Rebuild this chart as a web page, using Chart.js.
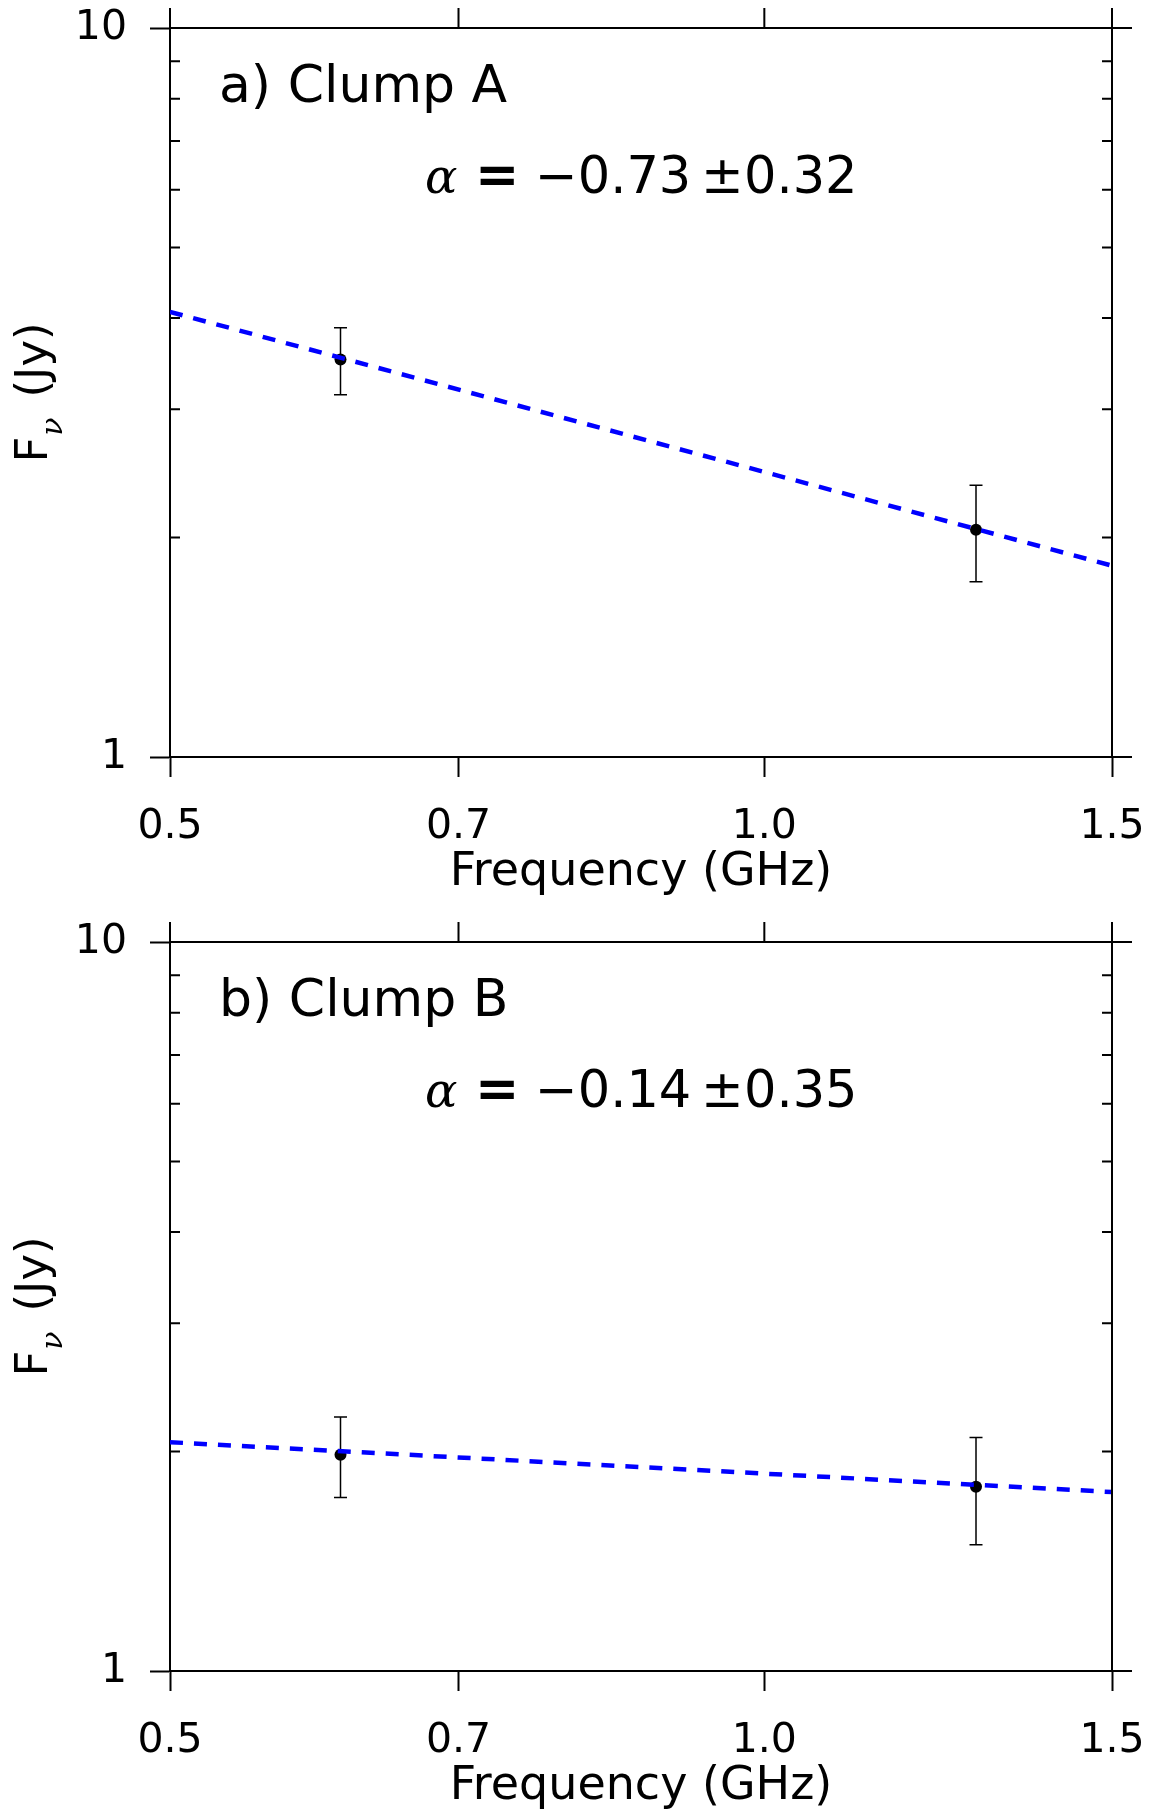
<!DOCTYPE html>
<html>
<head>
<meta charset="utf-8">
<script src="https://cdn.jsdelivr.net/npm/chart.js@4.4.1/dist/chart.umd.min.js"></script>
<style>
  body { margin: 0; background: #fff; overflow: hidden; }
  #wrap { position: relative; width: 1158px; height: 1811px; overflow: hidden; }
  canvas { position: absolute; left: 0; }
</style>
</head>
<body>
<div id="wrap">
  <canvas id="panelA" width="1158" height="914" style="top:0px"></canvas>
  <canvas id="panelB" width="1158" height="914" style="top:914px"></canvas>
</div>
<script>
"use strict";

// measured points (GHz, Jy) and 1-sigma errors
const freqs = [0.61, 1.28];
const fluxA = [3.51, 2.05];
const errA = [0.37, 0.31];
const fluxB = [1.98, 1.79];
const errB = [0.25, 0.30];

// power-law fit, read at the two ends of the axis
const fitFreqs = [0.5, 1.5];
const fitA = [4.08, 1.83];
const fitB = [2.06, 1.76];

// axes
const xTicks = [0.5, 0.7, 1.0, 1.5];
const yTicks = [1, 2, 3, 4, 5, 6, 7, 8, 9, 10];
const yMajor = [1, 10];

const panelLabels = ['a) Clump A', 'b) Clump B'];
const alphaVals = [['\u22120.73', '0.32'], ['\u22120.14', '0.35']];

const SANS = '"DejaVu Sans", sans-serif';
const SERIF = '"DejaVu Serif", serif';

// error bars drawn through the scales
const errorBars = {
  id: 'errorBars',
  beforeDatasetsDraw(chart, args, opts) {
    const ctx = chart.ctx;
    const x = chart.scales.x, y = chart.scales.y;
    ctx.save();
    ctx.strokeStyle = '#000';
    ctx.lineWidth = 1.5;
    opts.values.forEach((v, i) => {
      const px = x.getPixelForValue(opts.freqs[i]);
      const top = y.getPixelForValue(v + opts.errs[i]);
      const bot = y.getPixelForValue(v - opts.errs[i]);
      ctx.beginPath();
      ctx.moveTo(px, top); ctx.lineTo(px, bot);
      ctx.moveTo(px - 6.5, top); ctx.lineTo(px + 6.5, top);
      ctx.moveTo(px - 6.5, bot); ctx.lineTo(px + 6.5, bot);
      ctx.stroke();
    });
    ctx.restore();
  }
};

// top / right spines, outward major ticks, inward minor ticks
const frame = {
  id: 'frame',
  afterDraw(chart) {
    const ctx = chart.ctx;
    const a = chart.chartArea;
    const x = chart.scales.x, y = chart.scales.y;
    ctx.save();
    ctx.strokeStyle = '#000';
    ctx.lineWidth = 2;
    ctx.beginPath();
    ctx.moveTo(a.left, a.top); ctx.lineTo(a.right, a.top);
    ctx.moveTo(a.right, a.top); ctx.lineTo(a.right, a.bottom);
    xTicks.forEach(v => {
      const px = x.getPixelForValue(v);
      ctx.moveTo(px, a.top); ctx.lineTo(px, a.top - 20);
    });
    yTicks.forEach(v => {
      const py = y.getPixelForValue(v);
      if (yMajor.includes(v)) {
        ctx.moveTo(a.right, py); ctx.lineTo(a.right + 20, py);
      } else {
        ctx.moveTo(a.left, py); ctx.lineTo(a.left + 10, py);
        ctx.moveTo(a.right - 10, py); ctx.lineTo(a.right, py);
      }
    });
    ctx.stroke();
    ctx.restore();
  }
};

// panel label, spectral index and the y title with its subscript
const texts = {
  id: 'texts',
  afterDraw(chart, args, opts) {
    const ctx = chart.ctx;
    const a = chart.chartArea;
    ctx.save();
    ctx.fillStyle = '#000';
    ctx.textBaseline = 'alphabetic';
    ctx.textAlign = 'left';

    ctx.font = '52px ' + SANS;
    ctx.fillText(opts.label, a.left + 49, a.top + 74);

    // alpha = value ± err
    const bx = a.left + 255, by = a.top + 165;
    ctx.font = 'italic 48px ' + SERIF;
    ctx.fillText('\u03b1', bx, by);
    ctx.font = 'bold 53px ' + SANS;
    ctx.fillText('=', bx + 50, by);
    ctx.font = '51px ' + SANS;
    ctx.fillText(opts.alpha[0], bx + 110, by);
    ctx.fillText('\u00b1', bx + 276, by);
    ctx.fillText(opts.alpha[1], bx + 319, by);

    // y title: F_nu (Jy), rotated
    const cy = (a.top + a.bottom) / 2;
    ctx.translate(47, cy);
    ctx.rotate(-Math.PI / 2);
    ctx.font = '45px ' + SANS;
    const wF = ctx.measureText('F').width;
    const wJ = ctx.measureText('(Jy)').width;
    ctx.font = 'italic 30px ' + SERIF;
    const wNu = ctx.measureText('\u03bd').width;
    const total = wF + 1 + wNu + 20 + wJ;
    let cx = -total / 2;
    ctx.font = '45px ' + SANS;
    ctx.fillText('F', cx, 0);
    cx += wF + 1;
    ctx.font = 'italic 30px ' + SERIF;
    ctx.fillText('\u03bd', cx, 15);
    cx += wNu + 20;
    ctx.font = '45px ' + SANS;
    ctx.fillText('(Jy)', cx, 0);
    ctx.restore();
  }
};

// keep the plot box where layout.padding puts it
function noOverflow(s) {
  s.paddingTop = 0;
  s.paddingBottom = 0;
  s.paddingLeft = 0;
  s.paddingRight = 0;
}

function makePanel(id, flux, err, fit, label, alpha) {
  const points = freqs.map((f, i) => ({ x: f, y: flux[i] }));
  const fitLine = fitFreqs.map((f, i) => ({ x: f, y: fit[i] }));

  return new Chart(document.getElementById(id), {
    type: 'scatter',
    data: {
      datasets: [
        {
          type: 'line',
          data: fitLine,
          borderColor: '#0000ff',
          borderWidth: 4.5,
          borderDash: [13, 11],
          pointRadius: 0,
          fill: false,
          order: 0
        },
        {
          data: points,
          backgroundColor: '#000',
          borderWidth: 0,
          pointRadius: 6,
          order: 1
        }
      ]
    },
    options: {
      responsive: false,
      animation: false,
      devicePixelRatio: 1,
      layout: { autoPadding: false, padding: { left: 0, right: 46, top: 28, bottom: 0 } },
      plugins: {
        legend: { display: false },
        tooltip: { enabled: false },
        errorBars: { freqs: freqs, values: flux, errs: err },
        texts: { label: label, alpha: alpha }
      },
      scales: {
        x: {
          type: 'logarithmic',
          min: 0.5,
          max: 1.5,
          afterBuildTicks: s => { s.ticks = xTicks.map(v => ({ value: v })); },
          afterFit: s => { s.height = 157; noOverflow(s); },
          ticks: {
            color: '#000',
            font: { family: SANS, size: 41 },
            padding: 26,
            maxRotation: 0,
            autoSkip: false,
            callback: v => Number(v).toFixed(1)
          },
          grid: { drawOnChartArea: false, color: '#000', tickLength: 20, tickWidth: 2 },
          border: { display: true, color: '#000', width: 2 },
          title: {
            display: true,
            text: 'Frequency (GHz)',
            color: '#000',
            font: { family: SANS, size: 46 },
            padding: { top: 0, bottom: 13 }
          }
        },
        y: {
          type: 'logarithmic',
          min: 1,
          max: 10,
          afterBuildTicks: s => { s.ticks = yTicks.map(v => ({ value: v })); },
          afterFit: s => { s.width = 170; noOverflow(s); },
          ticks: {
            color: '#000',
            font: { family: SANS, size: 41 },
            padding: 23,
            autoSkip: false,
            callback: v => yMajor.includes(v) ? String(v) : ''
          },
          grid: {
            drawOnChartArea: false,
            tickLength: 20,
            tickWidth: 2,
            tickColor: c => (c.tick && yMajor.includes(c.tick.value)) ? '#000' : 'rgba(0,0,0,0)'
          },
          border: { display: true, color: '#000', width: 2 }
        }
      }
    },
    plugins: [errorBars, frame, texts]
  });
}

makePanel('panelA', fluxA, errA, fitA, panelLabels[0], alphaVals[0]);
makePanel('panelB', fluxB, errB, fitB, panelLabels[1], alphaVals[1]);
</script>
</body>
</html>
